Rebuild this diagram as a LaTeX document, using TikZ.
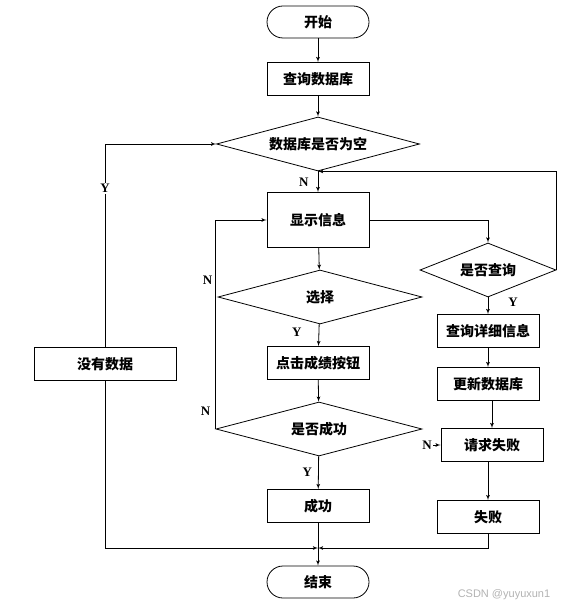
\documentclass[tikz,border=0pt]{standalone}
\usepackage{fontspec}
\setmainfont{Liberation Serif}
\newfontfamily\cjk{Noto Sans CJK SC}
\newfontfamily\marksans{Liberation Sans}
\usepackage{tikz}
\usetikzlibrary{arrows,shapes.geometric}

\begin{document}
\begin{tikzpicture}[x=1pt,y=-1pt,line width=0.8pt]
\tikzset{edge/.style = {->,> = latex'}}
\tikzset{box/.style = {draw=black, minimum width=102pt, minimum height=33pt, font=\cjk\fontsize{14}{16}\selectfont\bfseries}}
\tikzset{term/.style = {box, rounded corners=16pt, minimum height=32pt}}
\tikzset{cond/.style = {draw=black, shape=diamond, aspect=3.75, inner sep=0pt, minimum height=54pt, font=\cjk\fontsize{14}{16}\selectfont\bfseries}}
\tikzset{lbl/.style = {font=\fontsize{13}{15}\selectfont\bfseries, inner sep=1pt}}

\useasboundingbox (0,0) rectangle (577,612);

\node[term] (start) at (318,22) {开始};
\node[box] (query) at (318,79) {查询数据库};
\node[cond, minimum width=203pt] (empty) at (318,144) {数据库是否为空};
\node[box, minimum height=55pt] (show) at (318,220) {显示信息};
\node[cond, minimum width=204pt] (select) at (320,297) {选择};
\node[box] (click) at (318,363) {点击成绩按钮};
\node[cond, minimum width=206pt] (check) at (319,429) {是否成功};
\node[box] (success) at (318,506) {成功};
\node[term] (end) at (318,582) {结束};
\node[box, minimum width=142pt] (nodata) at (105,364) {没有数据};
\node[cond, aspect=2.5, minimum width=136pt] (ask) at (488,270) {是否查询};
\node[box] (detail) at (488,331) {查询详细信息};
\node[box] (update) at (488,384) {更新数据库};
\node[box] (reqfail) at (492,445) {请求失败};
\node[box] (fail) at (488,517) {失败};
\coordinate (merge) at (318,548);

\path [edge] (start) edge (query);
\path [edge] (query) edge (empty);
\path [edge] (empty) edge node[lbl, left=8pt] {N} (show);
\draw [edge] (show.east) -| (ask.north);
\draw [edge] (ask.east) |- (empty.south);
\path [edge] (ask) edge node[lbl, right=19pt, pos=0.3] {Y} (detail);
\path [edge] (detail) edge (update);
\path [edge] (update.south -| reqfail.north) edge (reqfail.north);
\path [edge] (reqfail.south -| fail.north) edge (fail.north);
\draw [edge] (fail.south) |- (merge);
\draw [edge] (nodata.north) |- node[lbl, pos=0.39, fill=white] {Y} (empty.west);
\draw [edge] (nodata.south) |- (merge);
\path [edge] (show) edge (select);
\path [edge] (select) edge node[lbl, left=16pt, pos=0.35] {Y} (click);
\path [edge] (click) edge (check);
\path [edge] (check) edge node[lbl, left=5pt] {Y} (success);
\path [edge] (success) edge (end);
\draw [edge] (check.west) |- (show.west);
\node[lbl, anchor=south east] (nsel) at ([shift={(-4pt,11pt)}]select.west) {N};
\node[lbl, anchor=south east] (nchk) at ([shift={(-4pt,12pt)}]check.west) {N};
\node[lbl] (nreq) at (427,445) {N};
\path [edge] (nreq) edge (reqfail.west);

\node[text=gray!60, font=\marksans\fontsize{11}{13}\selectfont] (mark) at (504,595) {CSDN @yuyuxun1};
\end{tikzpicture}
\end{document}
